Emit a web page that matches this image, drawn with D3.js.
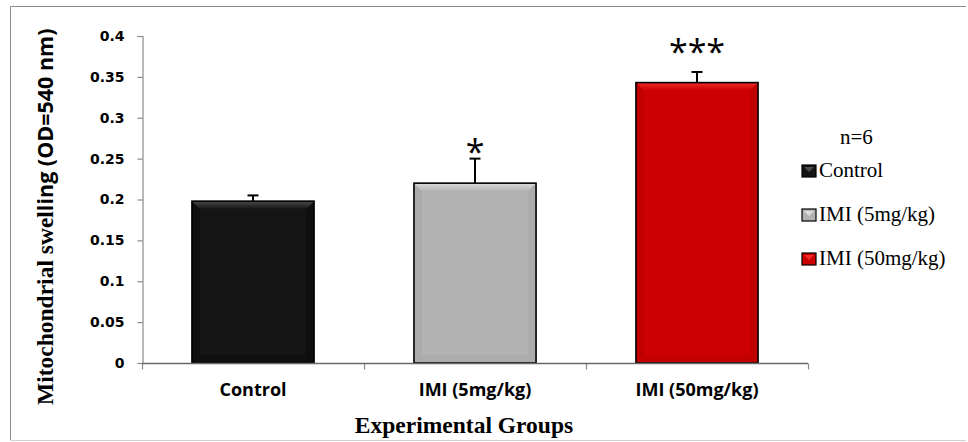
<!DOCTYPE html>
<html>
<head>
<meta charset="utf-8">
<script src="https://cdn.jsdelivr.net/npm/d3@7/dist/d3.min.js"></script>
<style>
  html, body { margin: 0; padding: 0; background: #fff; }
  svg { display: block; }
</style>
</head>
<body>
<svg id="chart" width="968" height="442"></svg>
<script>
// ---- data ----
const categories = ["Control", "IMI (5mg/kg)", "IMI (50mg/kg)"];
const means = [0.198, 0.220, 0.343];
const errors = [0.007, 0.030, 0.013];
const significance = ["", "*", "***"];
const barColors = ["#141414", "#b3b3b3", "#cc0000"];
const bevelLight = ["#4a4a4a", "#dcdcdc", "#ee2a2a"];
const bevelDark = ["#0a0a0a", "#a6a6a6", "#b80000"];
const yTickValues = [0, 0.05, 0.1, 0.15, 0.2, 0.25, 0.3, 0.35, 0.4];
const yTickLabels = ["0", "0.05", "0.1", "0.15", "0.2", "0.25", "0.3", "0.35", "0.4"];
const legendTitle = "n=6";
const yTitleSerif = "Mitochondrial swel";
const yTitleSans = "ling (OD=540 nm)";
const xTitle = "Experimental Groups";

const svg = d3.select("#chart");

// frame
svg.append("line").attr("x1", 10.5).attr("x2", 966).attr("y1", 6.5).attr("y2", 6.5).attr("stroke", "#8c8c8c");
svg.append("line").attr("x1", 10.5).attr("x2", 10.5).attr("y1", 6.5).attr("y2", 440).attr("stroke", "#8c8c8c");
svg.append("line").attr("x1", 10.5).attr("x2", 966).attr("y1", 440.5).attr("y2", 440.5).attr("stroke", "#d0d0d0");

const plotLeft = 142, plotRight = 808, plotTop = 36, plotBottom = 363;

const x = d3.scaleBand().domain(categories).range([plotLeft, plotRight]).paddingInner(0.45).paddingOuter(0.225);
const xEdges = d3.scaleBand().domain(categories).range([plotLeft, plotRight]).padding(0);
const y = d3.scaleLinear().domain([0, 0.4]).range([plotBottom, plotTop]);

// y axis
const yAxis = d3.axisLeft(y).tickValues(yTickValues).tickFormat((d, i) => yTickLabels[i]).tickSize(5).tickPadding(13);
const gy = svg.append("g").attr("transform", `translate(${plotLeft + 0.5},0)`).call(yAxis);
gy.select(".domain").attr("stroke", "#8a8a8a").attr("stroke-width", 1.2);
gy.selectAll(".tick line").attr("stroke", "#8a8a8a").attr("stroke-width", 1.2);
gy.selectAll(".tick text").attr("font-family", "'DejaVu Sans', sans-serif").attr("font-weight", "bold")
  .attr("font-size", "14px").attr("fill", "#000");

// x axis
const xAxis = d3.axisBottom(xEdges).tickSize(0).tickPadding(20);
const gx = svg.append("g").attr("transform", `translate(0,${plotBottom + 0.5})`).call(xAxis);
gx.select(".domain").attr("stroke", "#8a8a8a").attr("stroke-width", 1.2).attr("d", `M${plotLeft},0H${plotRight}`);
gx.selectAll(".tick text").attr("font-family", "'Open Sans', sans-serif").attr("font-weight", "bold")
  .attr("font-size", "18px").attr("fill", "#000");
// boundary ticks
const boundaries = categories.map(c => xEdges(c)).concat([xEdges(categories[categories.length - 1]) + xEdges.bandwidth()]);
gx.selectAll(".bound").data(boundaries).enter().append("line")
  .attr("x1", d => d + 0.5).attr("x2", d => d + 0.5).attr("y1", 0).attr("y2", 6)
  .attr("stroke", "#8a8a8a").attr("stroke-width", 1.2);

// bars with bevel
const bevel = 8;
const defs = svg.append("defs");
categories.forEach((c, i) => {
  const g = defs.append("linearGradient").attr("id", "top" + i).attr("x1", 0).attr("y1", 0).attr("x2", 0).attr("y2", 1);
  g.append("stop").attr("offset", "0%").attr("stop-color", bevelLight[i]);
  g.append("stop").attr("offset", "100%").attr("stop-color", barColors[i]);
});

const bars = svg.append("g").selectAll("g").data(categories).enter().append("g");
bars.each(function (c, i) {
  const g = d3.select(this);
  const x0 = x(c), x1 = x(c) + x.bandwidth();
  const y0 = y(means[i]), y1 = y(0);
  g.append("rect").attr("x", x0).attr("y", y0).attr("width", x1 - x0).attr("height", y1 - y0).attr("fill", barColors[i]);
  // sides
  g.append("polygon").attr("points", [[x0, y0], [x0 + bevel, y0 + bevel], [x0 + bevel, y1 - bevel], [x0, y1]].join(" "))
    .attr("fill", bevelDark[i]).attr("opacity", 0.6);
  g.append("polygon").attr("points", [[x1, y0], [x1 - bevel, y0 + bevel], [x1 - bevel, y1 - bevel], [x1, y1]].join(" "))
    .attr("fill", bevelDark[i]).attr("opacity", 0.6);
  g.append("polygon").attr("points", [[x0, y1], [x0 + bevel, y1 - bevel], [x1 - bevel, y1 - bevel], [x1, y1]].join(" "))
    .attr("fill", bevelDark[i]).attr("opacity", 0.5);
  g.append("polygon").attr("points", [[x0, y0], [x1, y0], [x1 - bevel, y0 + bevel], [x0 + bevel, y0 + bevel]].join(" "))
    .attr("fill", `url(#top${i})`);
  g.append("rect").attr("x", x0).attr("y", y0).attr("width", x1 - x0).attr("height", y1 - y0)
    .attr("fill", "none").attr("stroke", "#000").attr("stroke-width", 1.6);

  // error bar (upper only)
  const cx = x0 + (x1 - x0) / 2;
  const ye = y(means[i] + errors[i]);
  g.append("line").attr("x1", cx).attr("x2", cx).attr("y1", y0).attr("y2", ye).attr("stroke", "#000").attr("stroke-width", 2);
  g.append("line").attr("x1", cx - 5.5).attr("x2", cx + 5.5).attr("y1", ye).attr("y2", ye).attr("stroke", "#000").attr("stroke-width", 2);

  if (significance[i]) {
    g.append("text").attr("x", cx).attr("y", y0 - 19).attr("text-anchor", "middle")
      .attr("font-family", "'Open Sans', sans-serif").attr("font-size", "34px").attr("fill", "#000")
      .text(significance[i]);
  }
});

// redraw axis baseline over bars
svg.append("line").attr("x1", plotLeft).attr("x2", plotRight).attr("y1", plotBottom + 0.5).attr("y2", plotBottom + 0.5)
  .attr("stroke", "#6a6a6a").attr("stroke-width", 1.4);

// y title
const yt = svg.append("text").attr("transform", "translate(53,405) rotate(-90)").attr("fill", "#000").attr("font-weight", "bold");
yt.append("tspan").attr("font-family", "'Liberation Serif', 'Times New Roman', serif").attr("font-size", "23.5px").text(yTitleSerif);
yt.append("tspan").attr("font-family", "'Open Sans', sans-serif").attr("font-size", "21.5px").text(yTitleSans);

// x title
svg.append("text").attr("x", 464).attr("y", 433).attr("text-anchor", "middle")
  .attr("font-family", "'Liberation Serif', 'Times New Roman', serif").attr("font-weight", "bold")
  .attr("font-size", "23.5px").attr("fill", "#000").text(xTitle);

// legend
const legend = svg.append("g");
legend.append("text").attr("x", 840).attr("y", 144).attr("font-family", "'Liberation Serif', 'Times New Roman', serif")
  .attr("font-size", "21px").attr("fill", "#000").text(legendTitle);
const items = legend.selectAll(".item").data(categories).enter().append("g")
  .attr("transform", (d, i) => `translate(802,${177 + i * 44})`);
items.append("rect").attr("x", 0).attr("y", -12).attr("width", 14).attr("height", 12)
  .attr("fill", (d, i) => barColors[i]).attr("stroke", "#000").attr("stroke-width", 1.2);
items.append("polygon").attr("points", "2,-10 12,-10 7,-5").attr("fill", (d, i) => bevelLight[i]);
items.append("text").attr("x", 17).attr("y", 0).attr("font-family", "'Liberation Serif', 'Times New Roman', serif")
  .attr("font-size", "21px").attr("fill", "#000").text(d => d);
</script>
</body>
</html>
